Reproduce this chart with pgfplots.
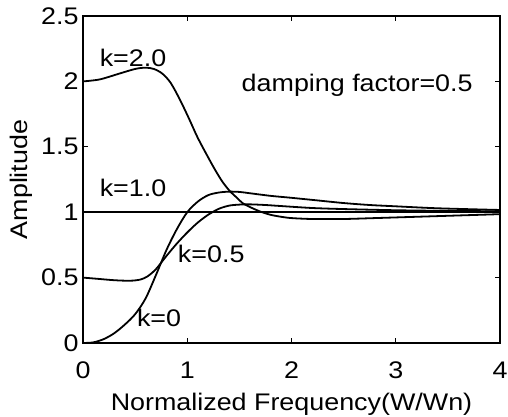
\documentclass[border=0pt]{standalone}
\usepackage{fontspec}
\setmainfont[FakeStretch=1.12]{Liberation Sans}
\usepackage{pgfplots}
\pgfplotsset{compat=1.18}

\begin{document}
\begin{tikzpicture}[font=\fontsize{24}{28}\selectfont]
\useasboundingbox (-83pt,-74pt) rectangle (425pt,343pt);
\begin{axis}[
  at={(0pt,0pt)}, anchor=south west,
  scale only axis,
  width=417pt, height=327pt,
  xmin=0, xmax=4, ymin=0, ymax=2.5,
  xtick={0,1,2,3,4},
  ytick={0,0.5,1,1.5,2,2.5},
  yticklabels={0,0.5,1,1.5,2,2.5},
  xtick pos=both, ytick pos=both,
  tick align=inside,
  major tick length=5pt,
  axis line style={line width=1.7pt},
  tick style={line width=1.3pt,black},
  /pgf/number format/assume math mode=true,
  tick label style={font=\fontsize{24}{28}\selectfont},
  xticklabel style={anchor=base, yshift=-35pt},
  yticklabel style={anchor=east, xshift=-1pt},
  xlabel={Normalized Frequency(W/Wn)},
  ylabel={Amplitude},
  every axis x label/.style={at={(axis description cs:0.5,0)}, anchor=base, yshift=-67pt},
  every axis y label/.style={at={(axis description cs:-0.149,0.5)}, rotate=90, anchor=center},
  clip=false,
]
% k = 2.0
\addplot[black, line width=1.8pt, smooth] coordinates {
  (0,2.0) (0.16,2.015) (0.35,2.06) (0.5,2.095) (0.6,2.105) (0.68,2.095)
  (0.76,2.06) (0.84,1.99) (0.93,1.86) (1.02,1.71) (1.1,1.57) (1.2,1.42)
  (1.27,1.32) (1.34,1.23) (1.41,1.16) (1.47,1.115) (1.53,1.07) (1.6,1.04)
  (1.7,1.005) (1.8,0.98) (1.9,0.965) (2.0,0.955) (2.2,0.948) (2.5,0.948)
  (2.8,0.955) (3.2,0.965) (3.6,0.975) (4,0.985)
};
% k = 1.0
\addplot[black, line width=1.8pt] coordinates {(0,1) (4,1)};
% k = 0.5
\addplot[black, line width=1.8pt, smooth] coordinates {
  (0,0.5) (0.15,0.49) (0.3,0.48) (0.45,0.476) (0.55,0.485) (0.62,0.51)
  (0.7,0.565) (0.8,0.665) (0.9,0.76) (1.0,0.845) (1.1,0.92) (1.2,0.98)
  (1.3,1.025) (1.4,1.05) (1.5,1.058) (1.6,1.06) (1.75,1.055) (1.9,1.047)
  (2.2,1.032) (2.5,1.024) (3.0,1.015) (3.5,1.01) (4,1.007)
};
% k = 0
\addplot[black, line width=1.8pt, smooth] coordinates {
  (0,0) (0.1,0.005) (0.2,0.03) (0.3,0.075) (0.4,0.14) (0.5,0.22)
  (0.6,0.34) (0.7,0.52) (0.8,0.71) (0.9,0.87) (1.0,1.0) (1.1,1.08)
  (1.2,1.13) (1.3,1.15) (1.4,1.157) (1.5,1.155) (1.6,1.145) (1.8,1.125)
  (2.0,1.11) (2.25,1.09) (2.5,1.07) (2.75,1.055) (3.0,1.045) (3.4,1.03)
  (4,1.017)
};
\node at (axis cs:0.48,2.18) {k=2.0};
\node at (axis cs:0.48,1.185) {k=1.0};
\node at (axis cs:2.63,1.97) {damping factor=0.5};
\node at (axis cs:1.23,0.68) {k=0.5};
\node at (axis cs:0.73,0.19) {k=0};
\end{axis}
\end{tikzpicture}
\end{document}
